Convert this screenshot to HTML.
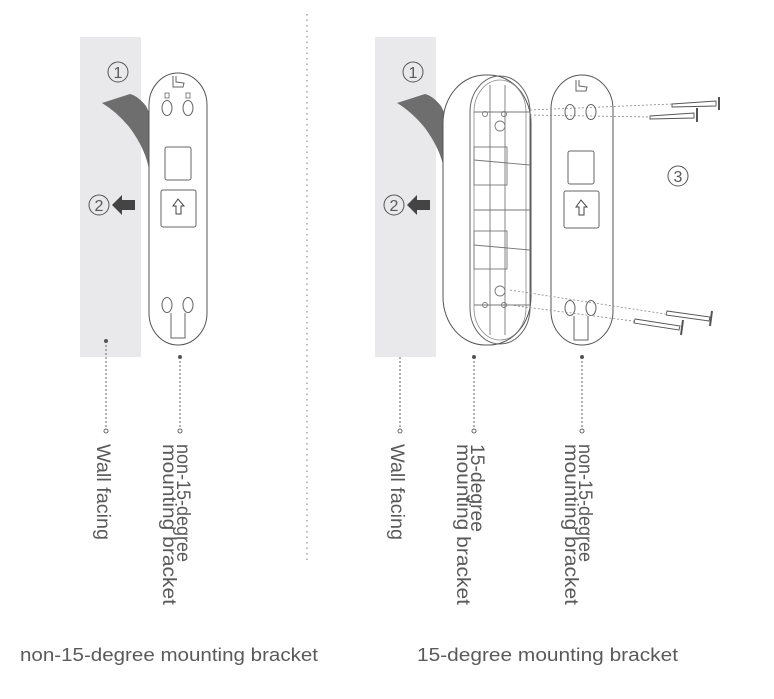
<!DOCTYPE html>
<html><head><meta charset="utf-8"><style>
html,body{margin:0;padding:0;background:#fff;}
svg{display:block;}
text{font-family:"Liberation Sans",sans-serif;fill:#5a5a5a;}
</style></head><body>
<svg width="774" height="699" viewBox="0 0 774 699" xmlns="http://www.w3.org/2000/svg">
<line x1="307" y1="14" x2="307" y2="562" stroke="#999" stroke-width="1.3" stroke-dasharray="1.5 4"/>

<!-- LEFT -->
<rect x="80" y="37" width="61" height="320" fill="#e9e8ea"/>
<path d="M102,103 L130,94 Q138,96 146,106 L149,112 L149,170 Q146,150 130,128 Q117,112 102,103 Z" fill="#6e6e6e"/>
<circle cx="118" cy="72" r="10" fill="none" stroke="#555" stroke-width="1"/>
<text x="118" y="78" font-size="16" text-anchor="middle">1</text>
<circle cx="99" cy="205" r="10" fill="none" stroke="#555" stroke-width="1"/>
<text x="99" y="211" font-size="16" text-anchor="middle">2</text>
<path d="M112,205 L122,195 L122,200 L135,200 L135,210 L122,210 L122,215 Z" fill="#444"/>
<rect x="149" y="73" width="58" height="272" rx="29" ry="32" fill="#fff" stroke="#555" stroke-width="1"/>
<rect x="165" y="147" width="26" height="33" rx="2" fill="none" stroke="#666"/>
<rect x="161" y="190" width="35" height="37" rx="2" fill="none" stroke="#666"/>
<path d="M178,199 L173,206 L176,206 L176,214 L181,214 L181,206 L184,206 Z" fill="none" stroke="#444"/>
<ellipse cx="167" cy="108" rx="5" ry="7.5" fill="none" stroke="#666"/>
<ellipse cx="188" cy="108" rx="5" ry="7.5" fill="none" stroke="#666"/>
<rect x="165" y="93" width="4" height="5" fill="none" stroke="#666" stroke-width="0.8"/>
<rect x="186" y="93" width="4" height="5" fill="none" stroke="#666" stroke-width="0.8"/>
<path d="M173,76 L173,87 L183,87 L184,83 L176,82 L176,76" fill="none" stroke="#666"/>
<ellipse cx="167" cy="305" rx="5" ry="7.5" fill="none" stroke="#666"/>
<ellipse cx="188" cy="305" rx="5" ry="7.5" fill="none" stroke="#666"/>
<path d="M171,313 L171,338 L185,338 L185,313" fill="none" stroke="#666"/>
<g stroke="#666" stroke-width="1" stroke-dasharray="2 2" fill="none">
<line x1="106" y1="341" x2="106" y2="429"/>
<line x1="180" y1="357" x2="180" y2="429"/>
<line x1="400" y1="341" x2="400" y2="429"/>
<line x1="474" y1="357" x2="474" y2="429"/>
<line x1="582" y1="357" x2="582" y2="429"/>
</g>
<g fill="#555"><circle cx="106" cy="341" r="2"/><circle cx="180" cy="357" r="2"/><circle cx="400" cy="341" r="2"/><circle cx="474" cy="357" r="2"/><circle cx="582" cy="357" r="2"/></g>
<g fill="#fff" stroke="#666"><circle cx="106" cy="431" r="2"/><circle cx="180" cy="431" r="2"/><circle cx="400" cy="431" r="2"/><circle cx="474" cy="431" r="2"/><circle cx="582" cy="431" r="2"/></g>

<g font-size="19">
<text transform="translate(97,444) rotate(90)" textLength="96" lengthAdjust="spacingAndGlyphs">Wall facing</text>
<text transform="translate(177,444) rotate(90)" textLength="118" lengthAdjust="spacingAndGlyphs">non-15-degree</text>
<text transform="translate(163,444) rotate(90)" textLength="161" lengthAdjust="spacingAndGlyphs">mounting bracket</text>
<text transform="translate(391,444) rotate(90)" textLength="96" lengthAdjust="spacingAndGlyphs">Wall facing</text>
<text transform="translate(471,444) rotate(90)" textLength="88" lengthAdjust="spacingAndGlyphs">15-degree</text>
<text transform="translate(457,444) rotate(90)" textLength="161" lengthAdjust="spacingAndGlyphs">mounting bracket</text>
<text transform="translate(579,444) rotate(90)" textLength="118" lengthAdjust="spacingAndGlyphs">non-15-degree</text>
<text transform="translate(565,444) rotate(90)" textLength="161" lengthAdjust="spacingAndGlyphs">mounting bracket</text>
</g>

<!-- RIGHT -->
<rect x="375" y="37" width="61" height="320" fill="#e9e8ea"/>
<path d="M397,103 L425,94 Q433,96 441,106 L444,112 L444,170 Q441,150 425,128 Q412,112 397,103 Z" fill="#6e6e6e"/>
<circle cx="413" cy="72" r="10" fill="none" stroke="#555" stroke-width="1"/>
<text x="413" y="78" font-size="16" text-anchor="middle">1</text>
<circle cx="394" cy="205" r="10" fill="none" stroke="#555" stroke-width="1"/>
<text x="394" y="211" font-size="16" text-anchor="middle">2</text>
<path d="M407,205 L417,195 L417,200 L430,200 L430,210 L417,210 L417,215 Z" fill="#444"/>
<rect x="443" y="75" width="88" height="270" rx="42" ry="48" fill="#fff" stroke="#555" stroke-width="1"/>
<rect x="470" y="76" width="60" height="268" rx="30" ry="36" fill="none" stroke="#666" stroke-width="1"/>
<rect x="474" y="80" width="52" height="260" rx="26" ry="32" fill="none" stroke="#888" stroke-width="0.8"/>
<g fill="none" stroke="#777" stroke-width="0.9">
<rect x="474" y="147" width="33" height="38"/>
<rect x="474" y="231" width="33" height="38"/>
<line x1="474" y1="112" x2="530" y2="112"/>
<line x1="474" y1="160" x2="530" y2="165"/>
<line x1="474" y1="210" x2="530" y2="210"/>
<line x1="474" y1="245" x2="530" y2="250"/>
<line x1="474" y1="305" x2="530" y2="305"/>
<line x1="490" y1="85" x2="490" y2="335"/>
<line x1="505" y1="85" x2="505" y2="335"/>
<circle cx="500" cy="126" r="5"/><circle cx="500" cy="291" r="5"/>
<circle cx="485" cy="114" r="2.5"/><circle cx="504" cy="114" r="2.5"/>
<circle cx="485" cy="305" r="2.5"/><circle cx="504" cy="305" r="2.5"/>
</g>
<rect x="551" y="75" width="62" height="270" rx="31" ry="34" fill="#fff" stroke="#555" stroke-width="1"/>
<rect x="568" y="151" width="26" height="33" rx="2" fill="none" stroke="#666"/>
<rect x="564" y="191" width="35" height="37" rx="2" fill="none" stroke="#666"/>
<path d="M581,200 L576,207 L579,207 L579,215 L584,215 L584,207 L587,207 Z" fill="none" stroke="#444"/>
<ellipse cx="570" cy="112" rx="5" ry="7.5" fill="none" stroke="#666"/>
<ellipse cx="591" cy="112" rx="5" ry="7.5" fill="none" stroke="#666"/>
<ellipse cx="570" cy="308" rx="5" ry="7.5" fill="none" stroke="#666"/>
<ellipse cx="591" cy="308" rx="5" ry="7.5" fill="none" stroke="#666"/>
<path d="M576,80 L576,91 L586,91 L587,87 L579,86 L579,80" fill="none" stroke="#666"/>
<path d="M574,316 L574,340 L588,340 L588,316" fill="none" stroke="#666"/>
<g stroke="#888" stroke-width="0.8" stroke-dasharray="2 2" fill="none">
<line x1="530" y1="110" x2="672" y2="104"/>
<line x1="530" y1="115" x2="650" y2="117"/>
<line x1="510" y1="290" x2="665" y2="314"/>
<line x1="510" y1="305" x2="640" y2="322"/>
</g>
<g stroke="#555" fill="#fff" stroke-width="0.9">
<path d="M672,104 L716,101 L716,106 L672,107 Z"/><line x1="719" y1="97" x2="719" y2="110" stroke-width="2"/>
<path d="M650,116 L694,113 L694,118 L650,119 Z"/><line x1="697" y1="108" x2="697" y2="122" stroke-width="2"/>
<path d="M667,311 L710,317 L709,321 L666,315 Z"/><line x1="712" y1="311" x2="710" y2="326" stroke-width="2"/>
<path d="M635,319 L680,326 L679,330 L634,323 Z"/><line x1="683" y1="320" x2="681" y2="335" stroke-width="2"/>
</g>
<circle cx="678" cy="176" r="10" fill="none" stroke="#555" stroke-width="1"/>
<text x="678" y="182" font-size="16" text-anchor="middle">3</text>

<text x="20" y="661" font-size="18" textLength="298" lengthAdjust="spacingAndGlyphs">non-15-degree mounting bracket</text>
<text x="417" y="661" font-size="18" textLength="261" lengthAdjust="spacingAndGlyphs">15-degree mounting bracket</text>
</svg>
</body></html>
